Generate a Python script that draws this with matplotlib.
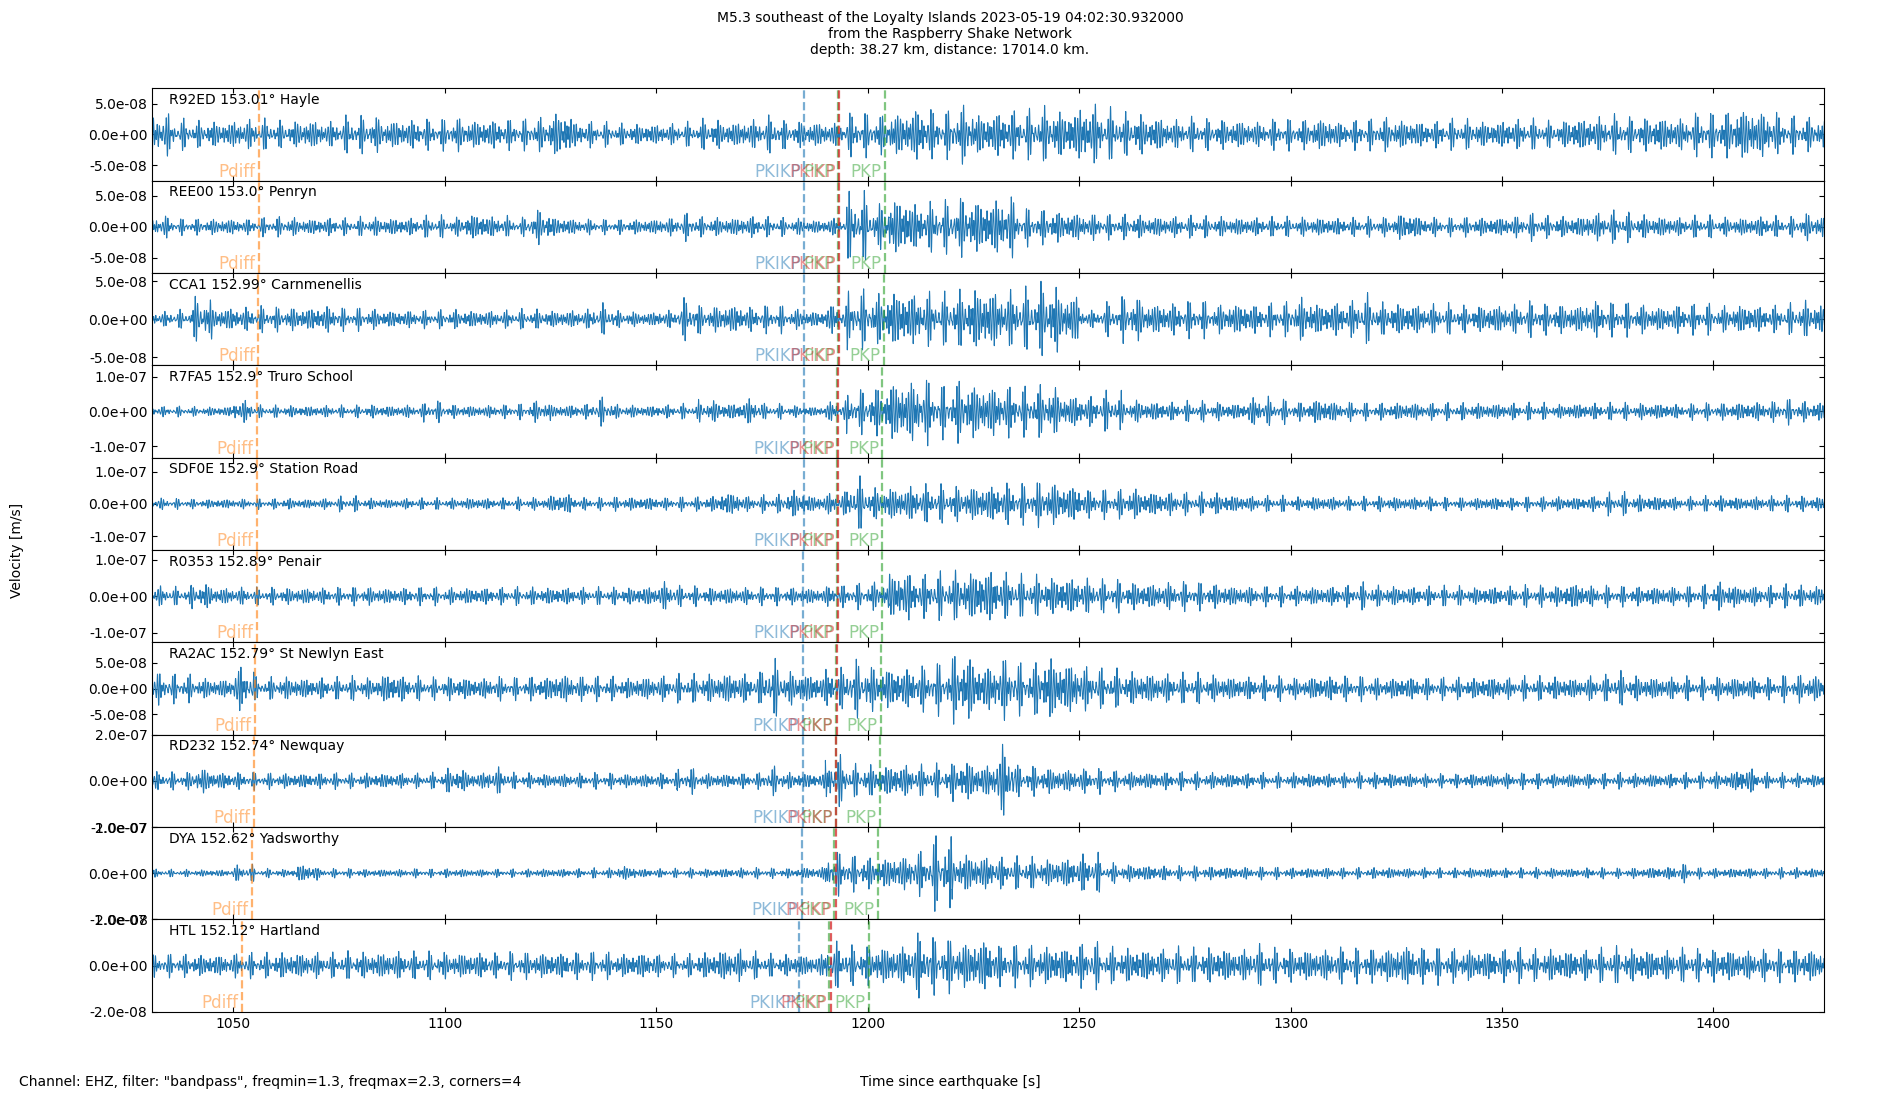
import numpy as np
import matplotlib
matplotlib.use("Agg")
import matplotlib.pyplot as plt
from matplotlib.ticker import FormatStrFormatter

# --------------------
# Data
# --------------------
stations = ["R92ED", "REE00", "CCA1", "R7FA5", "SDF0E",
            "R0353", "RA2AC", "RD232", "DYA", "HTL"]
distances = ["153.01", "153.0", "152.99", "152.9", "152.9",
             "152.89", "152.79", "152.74", "152.62", "152.12"]
places = ["Hayle", "Penryn", "Carnmenellis", "Truro School", "Station Road",
          "Penair", "St Newlyn East", "Newquay", "Yadsworthy", "Hartland"]

# y axis half range and tick step per panel [m/s]
y_half = [7.5e-8, 7.45e-8, 6.05e-8, 1.33e-7, 1.43e-7,
          1.27e-7, 9.05e-8, 2.0e-7, 1.0e-7, 2.0e-8]
y_tick = [5e-8, 5e-8, 5e-8, 1e-7, 1e-7, 1e-7, 5e-8, 2e-7, 1e-7, 2e-8]

# phase arrival times [s since origin]
phase_names = ["Pdiff", "PKIKP", "PKP", "PKiKP", "PKP"]
pdiff = [1056.0, 1056.0, 1055.9, 1055.5, 1055.5, 1055.5, 1055.0, 1054.8, 1054.3, 1052.0]
pkikp = [1185.0, 1185.0, 1185.0, 1184.9, 1184.9, 1184.8, 1184.7, 1184.6, 1184.5, 1183.8]
pkp_bc = [1193.0, 1193.0, 1193.0, 1192.8, 1192.8, 1192.8, 1192.5, 1192.4, 1192.1, 1190.9]
pkikp_inner = [1193.2, 1193.2, 1193.2, 1193.0, 1193.0, 1193.0, 1192.7, 1192.6, 1192.4, 1191.3]
pkp_ab = [1204.0, 1204.0, 1203.9, 1203.5, 1203.5, 1203.5, 1203.1, 1202.9, 1202.4, 1200.3]
phase_times = [pdiff, pkikp, pkp_bc, pkikp_inner, pkp_ab]
phase_colors = ["tab:orange", "tab:blue", "tab:green", "tab:red", "tab:green"]

# peak amplitude of each trace in 5 s windows starting at 1030 s [nm/s]
env_start = 1030.0
env_step = 5.0
env_r92ed = [35, 25, 22, 22, 25, 25, 22, 25, 22, 30,
             30, 25, 25, 25, 28, 25, 25, 25, 28, 38,
             22, 20, 18, 18, 18, 20, 25, 22, 25, 30,
             22, 22, 20, 35, 33, 38, 45, 38, 48, 35,
             40, 40, 45, 40, 50, 42, 35, 30, 25, 28,
             25, 25, 22, 25, 25, 28, 22, 25, 28, 25,
             22, 25, 25, 22, 25, 25, 22, 28, 30, 32,
             28, 30, 28, 35, 38, 45, 40, 30, 28, 25]
env_ree00 = [18, 13, 13, 14, 13, 15, 16, 14, 15, 14,
             16, 15, 15, 18, 16, 22, 18, 15, 28, 16,
             13, 12, 12, 13, 15, 22, 16, 16, 18, 16,
             14, 12, 15, 54, 38, 49, 40, 42, 48, 45,
             50, 30, 28, 25, 22, 20, 20, 18, 18, 18,
             17, 16, 16, 16, 16, 16, 15, 16, 16, 23,
             16, 15, 16, 16, 18, 22, 18, 18, 24, 26,
             20, 18, 16, 18, 16, 16, 18, 16, 22, 18]
env_cca1 = [10, 12, 29, 16, 16, 17, 16, 16, 18, 15,
            14, 12, 12, 12, 13, 12, 12, 13, 13, 12,
            13, 20, 11, 10, 12, 27, 18, 20, 17, 18,
            14, 11, 20, 38, 34, 39, 36, 34, 38, 43,
            38, 40, 48, 35, 12, 22, 30, 22, 22, 24,
            20, 22, 20, 22, 29, 22, 24, 32, 22, 22,
            20, 20, 18, 20, 20, 23, 20, 20, 25, 22,
            20, 18, 20, 20, 18, 20, 18, 20, 24, 20]
env_r7fa5 = [15, 15, 14, 15, 33, 18, 18, 17, 18, 18,
             20, 18, 20, 30, 20, 18, 20, 22, 31, 20,
             22, 40, 20, 18, 20, 22, 33, 25, 38, 22,
             18, 15, 30, 62, 70, 93, 95, 75, 90, 80,
             75, 70, 75, 50, 45, 57, 35, 30, 28, 30,
             28, 25, 43, 35, 28, 38, 28, 25, 25, 28,
             25, 25, 25, 25, 25, 25, 22, 25, 25, 25,
             25, 25, 22, 25, 25, 28, 30, 36, 30, 28]
env_sdf0e = [18, 16, 15, 16, 16, 16, 18, 16, 18, 24,
             18, 16, 18, 18, 18, 20, 18, 20, 20, 33,
             20, 20, 22, 22, 20, 22, 25, 38, 25, 28,
             43, 28, 35, 80, 50, 55, 60, 58, 55, 60,
             65, 62, 70, 60, 45, 45, 50, 40, 38, 35,
             35, 28, 25, 25, 22, 24, 22, 22, 24, 22,
             22, 20, 20, 22, 20, 22, 24, 22, 25, 36,
             28, 25, 22, 24, 25, 22, 24, 25, 24, 22]
env_r0353 = [28, 25, 36, 25, 25, 24, 24, 25, 24, 25,
             26, 24, 25, 25, 24, 25, 24, 25, 25, 26,
             24, 24, 25, 28, 40, 28, 25, 26, 25, 25,
             25, 24, 30, 35, 40, 73, 60, 65, 70, 78,
             65, 58, 55, 55, 50, 45, 40, 38, 40, 38,
             35, 30, 28, 28, 28, 28, 30, 37, 30, 28,
             28, 28, 26, 28, 28, 30, 30, 38, 30, 28,
             28, 28, 28, 32, 40, 30, 30, 32, 30, 30]
env_ra2ac = [32, 28, 22, 20, 44, 22, 24, 22, 22, 24,
             22, 31, 24, 22, 24, 22, 24, 22, 24, 30,
             25, 24, 22, 25, 26, 28, 30, 33, 30, 55,
             35, 30, 40, 55, 45, 42, 45, 50, 68, 48,
             61, 50, 65, 55, 45, 38, 35, 32, 30, 30,
             28, 25, 24, 24, 22, 26, 25, 24, 22, 24,
             22, 22, 22, 24, 22, 24, 24, 22, 26, 33,
             26, 24, 24, 22, 24, 24, 22, 26, 28, 24]
env_rd232 = [40, 38, 58, 40, 38, 35, 35, 35, 35, 33,
             35, 35, 33, 35, 55, 38, 58, 35, 33, 33,
             33, 35, 33, 33, 35, 55, 35, 33, 35, 62,
             38, 35, 110, 70, 70, 75, 70, 72, 92, 75,
             156, 65, 60, 55, 55, 45, 42, 40, 40, 38,
             38, 35, 35, 33, 35, 33, 33, 35, 35, 33,
             30, 30, 33, 33, 35, 33, 33, 35, 33, 35,
             33, 33, 35, 35, 38, 58, 35, 33, 30, 30]
env_dya = [9, 8, 8, 8, 18, 10, 9, 20, 10, 10,
           9, 9, 10, 9, 10, 9, 9, 9, 10, 10,
           10, 11, 16, 10, 10, 11, 10, 11, 12, 11,
           11, 14, 47, 38, 35, 40, 49, 78, 45, 40,
           35, 35, 32, 35, 42, 22, 20, 18, 16, 16,
           15, 14, 14, 13, 12, 13, 12, 12, 13, 12,
           12, 11, 12, 12, 11, 12, 12, 11, 12, 11,
           12, 14, 20, 12, 11, 12, 11, 12, 11, 11]
env_htl = [5, 5, 5, 5, 5.5, 5.5, 6, 6, 5.5, 6,
           6, 6.5, 6, 6, 6, 6, 5.5, 6, 6, 6,
           6, 6, 5.5, 6, 5, 5, 6, 7.5, 6, 5,
           5, 5, 10, 8.5, 9, 9, 14, 12, 11, 12,
           9, 9, 9, 8.5, 10, 8, 8, 7.5, 8, 7.5,
           8, 7.5, 9, 7.5, 7.5, 7.5, 8, 7.5, 8, 9.5,
           8, 7.5, 7.5, 7, 7.5, 7, 7.5, 7, 7.5, 8,
           7.5, 7, 7.5, 7, 7.5, 7, 7, 7, 7.5, 7]
envelopes = [env_r92ed, env_ree00, env_cca1, env_r7fa5, env_sdf0e,
             env_r0353, env_ra2ac, env_rd232, env_dya, env_htl]

x_min, x_max = 1030.85, 1426.25

# --------------------
# Figure
# --------------------
fig, axes = plt.subplots(len(stations), 1, sharex=True, figsize=(19, 11), dpi=100)
fig.subplots_adjust(left=0.0802, right=0.9602, top=0.9197, bottom=0.0803, hspace=0)

t = np.arange(x_min, x_max, 0.02)
idx = np.clip(((t - env_start) // env_step).astype(int), 0, len(env_r92ed) - 1)

for i, ax in enumerate(axes):
    # oscillation inside the 1.3-2.3 Hz pass band, scaled by the windowed peak amplitude
    ph = 0.9 * i
    wave = (np.cos(2 * np.pi * 1.41 * t + ph)
            + 0.8 * np.cos(2 * np.pi * 1.67 * t + 1.7 * ph + 0.4)
            + 0.9 * np.cos(2 * np.pi * 1.93 * t + 2.3 * ph + 1.1)
            + 0.7 * np.cos(2 * np.pi * 2.24 * t + 3.1 * ph + 2.0)) / 3.1
    amp = np.array(envelopes[i])[idx] * 1e-9
    ax.plot(t, wave * amp, color="tab:blue", lw=0.75)

    h = y_half[i]
    ax.set_ylim(-h, h)
    ax.set_xlim(x_min, x_max)
    ax.set_yticks([-y_tick[i], 0, y_tick[i]])
    ax.yaxis.set_major_formatter(FormatStrFormatter("%.1e"))
    ax.set_xticks(np.arange(1050, 1401, 50))
    ax.tick_params(direction="in", top=True, right=True, labelsize=10)

    for name, times, col in zip(phase_names, phase_times, phase_colors):
        tp = times[i]
        a = 0.75 if name == "PKiKP" else 0.6
        ax.axvline(tp, color=col, ls="--", lw=1.6, alpha=a)
        ax.text(tp - 0.8, -h, name, color=col, alpha=0.5, fontsize=12,
                ha="right", va="bottom")

    ax.text(0.01, 0.95, f"{stations[i]} {distances[i]}\u00b0 {places[i]}",
            transform=ax.transAxes, va="top", ha="left", fontsize=10)

fig.suptitle("M5.3 southeast of the Loyalty Islands 2023-05-19 04:02:30.932000\n"
             "from the Raspberry Shake Network\n"
             "depth: 38.27 km, distance: 17014.0 km.", y=0.99, fontsize=10)
fig.text(0.009, 0.5, "Velocity [m/s]", rotation=90, ha="center", va="center", fontsize=10)
fig.text(0.01, 0.0167, 'Channel: EHZ, filter: "bandpass", freqmin=1.3, freqmax=2.3, corners=4',
         ha="left", va="center", fontsize=10)
fig.text(0.5, 0.0167, "Time since earthquake [s]", ha="center", va="center", fontsize=10)

fig.savefig("out.png", dpi=100)
